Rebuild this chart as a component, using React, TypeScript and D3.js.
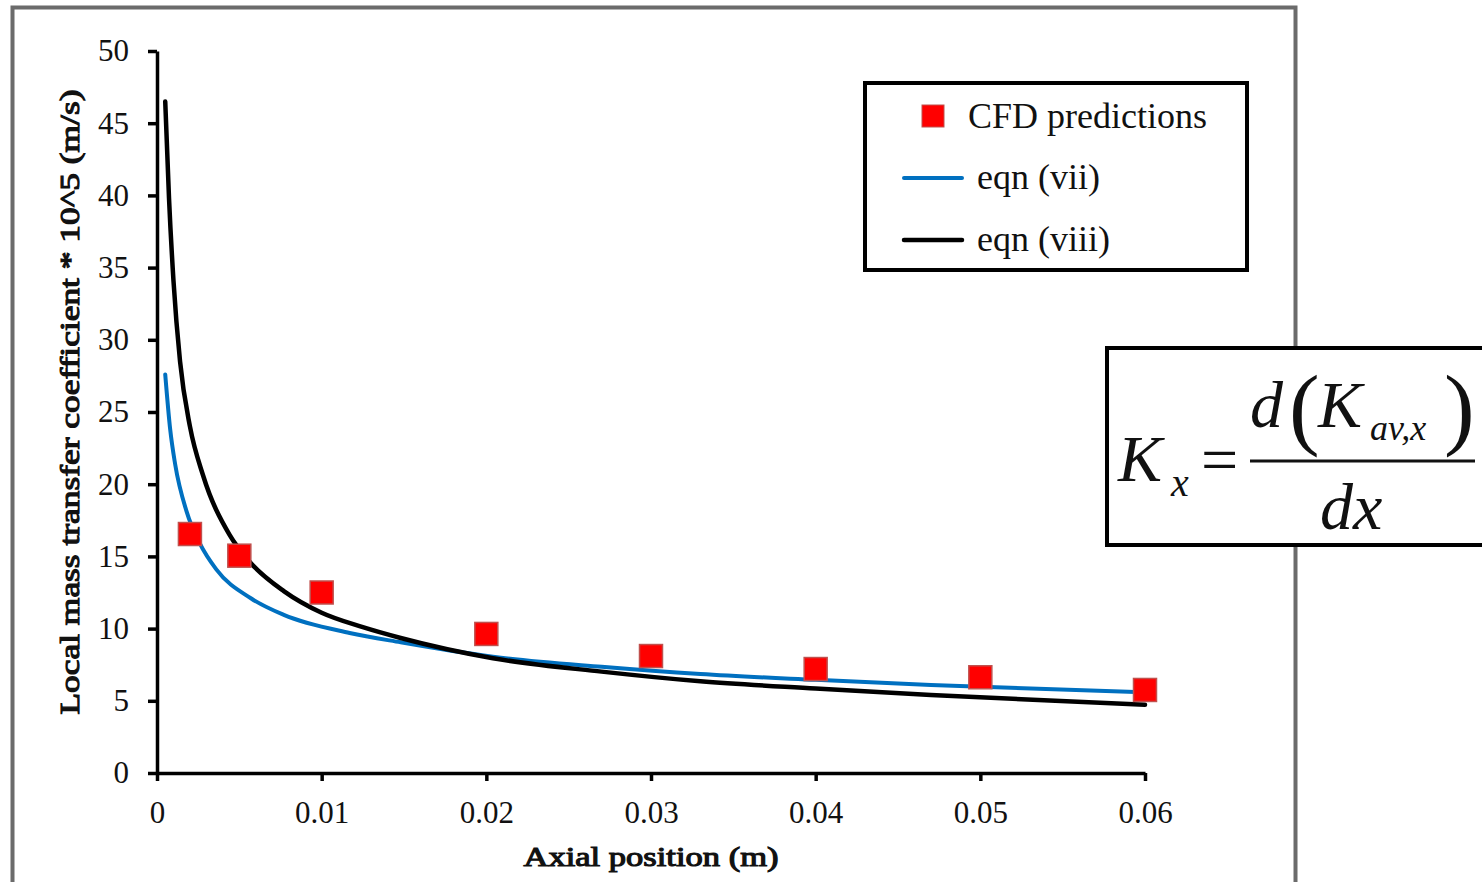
import React, { useEffect, useRef } from 'react';
import * as d3 from 'd3';

// CFD prediction points
const cfdX = [0.002, 0.005, 0.01, 0.02, 0.03, 0.04, 0.05, 0.06];
const cfdY = [16.55, 15.05, 12.5, 9.63, 8.1, 7.2, 6.63, 5.75];

// eqn (vii) – blue curve
const eqn7X = [0.0005, 0.0008, 0.0011, 0.0018, 0.0026, 0.0036, 0.0057, 0.0077, 0.0117, 0.0148, 0.0204, 0.027, 0.033, 0.04, 0.047, 0.06];
const eqn7Y = [27.6, 23.8, 21.4, 18.1, 15.9, 14.1, 12.1, 10.95, 9.7, 9.05, 8.05, 7.35, 6.85, 6.45, 6.1, 5.58];

// eqn (viii) – black curve
const eqn8X = [0.0005, 0.00073, 0.001, 0.0014, 0.002, 0.0028, 0.0044, 0.00565, 0.0077, 0.01, 0.0125, 0.0148, 0.0204, 0.027, 0.033, 0.04, 0.047, 0.06];
const eqn8Y = [46.5, 39.8, 34.1, 28.5, 24.0, 20.6, 16.5, 14.6, 12.6, 11.1, 10.1, 9.35, 7.95, 7.02, 6.35, 5.85, 5.4, 4.72];

const xTicks = [0, 0.01, 0.02, 0.03, 0.04, 0.05, 0.06];
const xTickLabels = ['0', '0.01', '0.02', '0.03', '0.04', '0.05', '0.06'];
const yTicks = [0, 5, 10, 15, 20, 25, 30, 35, 40, 45, 50];

const serif = '"Liberation Serif", "Times New Roman", serif';

const App = () => {
  const xAxisRef = useRef(null);
  const yAxisRef = useRef(null);

  const x = d3.scaleLinear().domain([0, 0.06]).range([157, 1145]);
  const y = d3.scaleLinear().domain([0, 50]).range([773, 51]);

  const line = d3.line<[number, number]>()
    .x((d) => x(d[0]))
    .y((d) => y(d[1]))
    .curve(d3.curveMonotoneX);

  const blue = eqn7X.map((v, i) => [v, eqn7Y[i]] as [number, number]);
  const black = eqn8X.map((v, i) => [v, eqn8Y[i]] as [number, number]);

  useEffect(() => {
    const gx = d3.select(xAxisRef.current);
    gx.selectAll('*').remove();
    gx.call(
      d3.axisBottom(x)
        .tickValues(xTicks)
        .tickFormat((d, i) => xTickLabels[i])
        .tickSize(8)
        .tickSizeOuter(0)
        .tickPadding(20)
    );

    const gy = d3.select(yAxisRef.current);
    gy.selectAll('*').remove();
    gy.call(
      d3.axisLeft(y)
        .tickValues(yTicks)
        .tickSize(9)
        .tickSizeOuter(0)
        .tickPadding(19)
    );

    [gx, gy].forEach((g) => {
      g.attr('font-family', serif);
      g.select('.domain').attr('stroke', '#000').attr('stroke-width', 3.5);
      g.selectAll('.tick line').attr('stroke', '#000').attr('stroke-width', 3.5);
      g.selectAll('.tick text')
        .attr('fill', '#111')
        .attr('font-family', serif)
        .attr('font-size', 31);
    });
  }, []);

  return (
    <svg width={1482} height={882} style={{ position: 'absolute', left: 0, top: 0, background: '#fff' }}>
      {/* outer chart frame */}
      <rect x={12.5} y={7.5} width={1283} height={900} fill="none" stroke="#6b6b6b" strokeWidth={4} />

      <g ref={xAxisRef} transform="translate(0,773)" />
      <g ref={yAxisRef} transform="translate(157,0)" />

      <path d={line(blue)} fill="none" stroke="#0070c0" strokeWidth={4} strokeLinecap="round" />
      <path d={line(black)} fill="none" stroke="#000" strokeWidth={4.5} strokeLinecap="round" />

      {cfdX.map((v, i) => (
        <rect key={i} x={x(v) - 11.5} y={y(cfdY[i]) - 11.5} width={23} height={23}
          fill="#ff0000" stroke="#c0504d" strokeWidth={1.5} />
      ))}

      {/* axis titles (regular face thickened with a stroke, so it stays Times-like) */}
      <text x={651} y={866} textAnchor="middle" fontFamily={serif} fontSize={27}
        stroke="#111" strokeWidth={1.1} textLength={255} lengthAdjust="spacingAndGlyphs" fill="#111">Axial position (m)</text>
      <text transform="translate(79,402) rotate(-90)" textAnchor="middle" fontFamily={serif}
        fontSize={28} stroke="#111" strokeWidth={1.1} textLength={625} lengthAdjust="spacingAndGlyphs" fill="#111">
        Local mass transfer coefficient * 10^5 (m/s)
      </text>

      {/* legend */}
      <rect x={865} y={83} width={382} height={187} fill="#fff" stroke="#000" strokeWidth={4} />
      <rect x={922} y={105} width={22} height={22} fill="#ff0000" stroke="#c0504d" strokeWidth={1} />
      <text x={968} y={128} fontFamily={serif} fontSize={36} fill="#111">CFD predictions</text>
      <line x1={904} x2={962} y1={178} y2={178} stroke="#0070c0" strokeWidth={4} strokeLinecap="round" />
      <text x={977} y={189} fontFamily={serif} fontSize={36} fill="#111">eqn (vii)</text>
      <line x1={904} x2={962} y1={240} y2={240} stroke="#000" strokeWidth={4.5} strokeLinecap="round" />
      <text x={977} y={251} fontFamily={serif} fontSize={36} fill="#111">eqn (viii)</text>

      {/* equation box */}
      <rect x={1107} y={348} width={400} height={197} fill="#fff" stroke="#000" strokeWidth={4} />
      <g fontFamily={serif} fill="#111" fontStyle="italic">
        <text x={1118} y={481} fontSize={66}>K</text>
        <text x={1171} y={496} fontSize={40}>x</text>
        <text x={1250} y={427} fontSize={66}>d</text>
        <text x={1318} y={427} fontSize={66}>K</text>
        <text x={1370} y={440} fontSize={36}>av,x</text>
        <text x={1320} y={529} fontSize={66}>dx</text>
      </g>
      <g fontFamily={serif} fill="#111">
        <text x={1201} y={482} fontSize={66}>=</text>
        <text x={1289} y={438} fontSize={92}>(</text>
        <text x={1444} y={438} fontSize={92}>)</text>
      </g>
      <line x1={1250} x2={1475} y1={461} y2={461} stroke="#111" strokeWidth={3} />
    </svg>
  );
};

export default App;
